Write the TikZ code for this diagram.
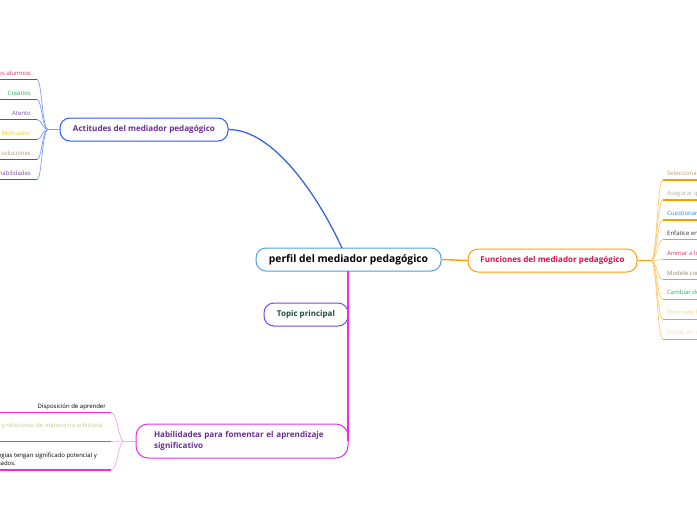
\documentclass[tikz,border=0pt]{standalone}
\usepackage{fontspec}
\setmainfont{Open Sans}
\definecolor{cBlue}{HTML}{2A5BF0}
\definecolor{cBlueL}{HTML}{7B9CFF}
\definecolor{cOr}{HTML}{FF9D00}
\definecolor{cOrL}{HTML}{FFCB70}
\definecolor{cMag}{HTML}{EE2CE8}
\definecolor{cMagL}{HTML}{F5A6F5}
\definecolor{cCen}{HTML}{4F9FE0}
\definecolor{cPur}{HTML}{6B2E92}
\definecolor{cCrim}{HTML}{D0154A}
\definecolor{cTopB}{HTML}{7A46EA}
\definecolor{cTopT}{HTML}{1C4D3D}
\definecolor{lCrim}{HTML}{D6336C}
\definecolor{lGreen}{HTML}{25B35A}
\definecolor{lPur}{HTML}{7D4FA8}
\definecolor{lYel}{HTML}{EED20C}
\definecolor{lTan}{HTML}{A89A78}
\definecolor{lTan2}{HTML}{B8A27A}
\definecolor{lGray}{HTML}{B0B0B0}
\definecolor{lBlue}{HTML}{2F8FD8}
\definecolor{lDark}{HTML}{333333}
\definecolor{lBrown}{HTML}{8C8478}
\definecolor{lYel2}{HTML}{F5E04A}
\definecolor{lPale}{HTML}{ECDCC0}
\definecolor{lOlive}{HTML}{C8C890}
\begin{document}
\begin{tikzpicture}[x=1pt,y=-1pt,
  topic/.style={draw, rounded corners=10pt, line width=1pt, fill=white, minimum height=23pt, inner sep=0pt, font=\bfseries\fontsize{8.1}{11}\selectfont},
  leaf/.style={inner sep=0pt, font=\fontsize{6}{7.5}\selectfont},
  ulB/.style={cBlue, line width=1.4pt},
  ulO/.style={cOr, line width=1.4pt},
  ulM/.style={cMag, line width=1.4pt},
  brB/.style={cBlueL, line width=0.7pt},
  brO/.style={cOrL, line width=0.7pt},
  brM/.style={cMagL, line width=0.7pt}]
\useasboundingbox (0,0) rectangle (697,520);
\fill[white] (0,0) rectangle (697,520);

\coordinate (cTop) at (342,248);
\coordinate (cBot) at (348,271);
\coordinate (hJoin) at (348,441);

% central
\node[topic, draw=cCen, minimum width=185pt, font=\bfseries\fontsize{10.3}{12}\selectfont] (cen) at (348.5,259.5) {perfil del mediador pedagógico};

% Actitudes
\node[topic, draw=cBlue, text=cPur, minimum width=168pt] (act) at (144,129.5) {Actitudes del mediador pedagógico};
% Funciones
\node[topic, draw=cOr, text=cCrim, minimum width=169pt] (fun) at (552.5,260.5) {Funciones del mediador pedagógico};
% Topic principal
\node[topic, draw=cTopB, text=cTopT, minimum width=84pt, font=\bfseries\fontsize{8}{10}\selectfont] (tp) at (306,314.5) {Topic principal};
% Habilidades
\node[topic, draw=cMag, text=cPur, minimum width=212pt, minimum height=34pt, rounded corners=12pt, align=left, text width=176pt] (hab) at (242,441) {Habilidades para fomentar el aprendizaje\\significativo};

\draw[cBlue, line width=1.2pt] (cTop) .. controls (320,200) and (275,129.5) .. (act.east);
\draw[cOr, line width=1.4pt] (cen.east) -- (fun.west);
\draw[cMag, line width=1.4pt] (cBot) -- (hJoin);

% Actitudes leaves
\coordinate (aF) at (48,129.5);
\draw[brB] (act.west) -- (aF);
\foreach \i/\t/\c in {0/{los alumnos}/lCrim, 1/{Creativo}/lGreen, 2/{Atento}/lPur, 3/{Motivador}/lYel, 4/{soluciones}/lTan, 5/{habilidades}/lPur}{
  \pgfmathsetmacro\yy{79.5+20*\i}
  \coordinate (aE\i) at (37,\yy);
  \coordinate (aL\i) at (-5,\yy);
  \node[leaf, text=\c, anchor=base east] (aT\i) at (31,\yy-4.5) {\t};
  \draw[brB] (aF) .. controls (42,129.5) and (42,\yy) .. (aE\i);
  \draw[ulB] (aE\i) -- (aL\i);
}

% Funciones leaves
\coordinate (fF) at (651,260.5);
\draw[cOr, line width=1.2pt] (fun.east) -- (fF);
\foreach \i/\t/\c in {0/{Seleccionar}/lTan2, 1/{Asegurar que}/lGray, 2/{Cuestionar}/lBlue, 3/{Enfatice en}/lDark, 4/{Animar a los}/lCrim, 5/{Modele con}/lBrown, 6/{Cambiar de}/lGreen, 7/{Promover la}/lYel2, 8/{Tomar en cuenta}/lPale}{
  \pgfmathsetmacro\yy{180+19.9*\i}
  \coordinate (fE\i) at (663,\yy);
  \coordinate (fL\i) at (705,\yy);
  \node[leaf, text=\c, anchor=base west] (fT\i) at (667,\yy-4.5) {\t};
  \draw[brO] (fF) .. controls (657,260.5) and (657,\yy) .. (fE\i);
  \draw[ulO] (fE\i) -- (fL\i);
}

% Habilidades leaves
\coordinate (hF) at (124,441);
\draw[brM] (hab.west) -- (hF);
\foreach \i/\yy in {0/412.5, 1/441.5, 2/470}{
  \coordinate (hE\i) at (111,\yy);
  \coordinate (hL\i) at (-5,\yy);
  \draw[brM] (hF) .. controls (118,441) and (118,\yy) .. (hE\i);
  \draw[ulM] (hE\i) -- (hL\i);
}
\node[leaf, text=black, anchor=base east] (hT0) at (106,408) {Disposición de aprender};
\node[leaf, text=lOlive, anchor=base east] (hT1) at (103,427) {y relacionar de manera no arbitraria};
\node[leaf, text=black, anchor=base east] (hT2a) at (97,457) {estrategias tengan significado potencial y};
\node[leaf, text=black, anchor=base east] (hT2b) at (16,465) {adecuados.};
\end{tikzpicture}
\end{document}
